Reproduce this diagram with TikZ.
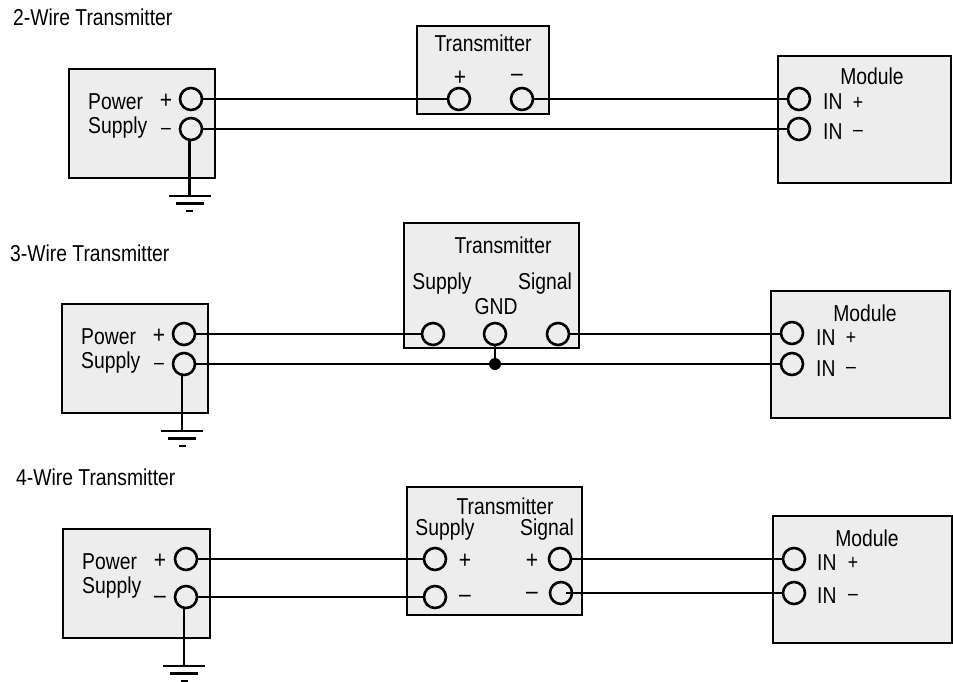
\documentclass[tikz,border=0pt]{standalone}
\usepackage{fontspec}
\setmainfont[FakeStretch=0.84]{Liberation Sans}
\tikzset{
  panel/.style={draw=black,fill=black!7,line width=2.6pt,line join=miter},
  wire/.style={line width=2.6pt},
  term/.style={circle,draw=black,line width=2.6pt,minimum size=22pt,inner sep=0pt},
  lbl/.style={inner sep=0pt,anchor=base,font=\fontsize{23}{24}\selectfont},
  lblw/.style={lbl,anchor=base west},
  sign/.style={inner sep=0pt,anchor=center,font=\fontsize{25}{25}\selectfont},
  smallsign/.style={inner sep=0pt,anchor=center,font=\fontsize{21}{22}\selectfont},
  dotnode/.style={circle,fill=black,minimum size=12pt,inner sep=0pt}
}
\newcommand{\earth}[1]{%
  \draw[line width=2.4pt] ([xshift=-21pt]#1) -- ([xshift=21pt]#1);
  \draw[line width=2.4pt] ([xshift=-14pt,yshift=-7.5pt]#1) -- ([xshift=14pt,yshift=-7.5pt]#1);
  \draw[line width=2.4pt] ([xshift=-3.5pt,yshift=-15pt]#1) -- ([xshift=3.5pt,yshift=-15pt]#1);
}
\begin{document}
\begin{tikzpicture}[x=1pt,y=-1pt]
\useasboundingbox (0,0) rectangle (953,681);
% --- 2-wire
\node[lblw] (ttwo) at (13,25) {2-Wire Transmitter};
\path[panel] (69,69) rectangle (215,178);
\path[panel] (417,26) rectangle (549,114);
\path[panel] (778,56) rectangle (951,183);
\node[lblw] (pa1) at (88,109) {Power};
\node[lblw] (pa2) at (88,133) {Supply};
\node[sign] (pa3) at (166,101) {+};
\node[smallsign] (pa4) at (166,131) {–};
\node[lbl] (ta1) at (483,51) {Transmitter};
\node[sign] (ta2) at (460,78) {+};
\node[sign] (ta3) at (517,78) {–};
\node[lbl] (ma1) at (872,84) {Module};
\node[lblw] (ma2) at (823,109) {IN};
\node[smallsign] (ma3) at (858,103) {+};
\node[lblw] (ma4) at (823,139) {IN};
\node[smallsign] (ma5) at (858,133) {–};
\node[term] (a1) at (191,99) {};
\node[term] (a2) at (191,129) {};
\node[term] (a3) at (459,99) {};
\node[term] (a4) at (522,99) {};
\node[term] (a5) at (799,99) {};
\node[term] (a6) at (799,129) {};
\draw[wire] (a1) -- (a3);
\draw[wire] (a4) -- (a5);
\draw[wire] (a2) -- (a6);
\coordinate (ga) at (189.5,196);
\draw[wire] (a2.south -| ga) -- (ga);
\earth{ga}
% --- 3-wire
\node[lblw] (tthree) at (10,261) {3-Wire Transmitter};
\path[panel] (62,304) rectangle (208,413);
\path[panel] (404,223) rectangle (579,348);
\path[panel] (771,291) rectangle (950,418);
\node[lblw] (pb1) at (81,344) {Power};
\node[lblw] (pb2) at (81,368) {Supply};
\node[sign] (pb3) at (159,336) {+};
\node[smallsign] (pb4) at (159,366) {–};
\node[lbl] (tb1) at (503,253) {Transmitter};
\node[lbl] (tb2) at (442,289) {Supply};
\node[lbl] (tb3) at (545,289) {Signal};
\node[lbl] (tb4) at (496,314) {GND};
\node[lbl] (mb1) at (865,321) {Module};
\node[lblw] (mb2) at (816,345) {IN};
\node[smallsign] (mb3) at (851,338) {+};
\node[lblw] (mb4) at (816,376) {IN};
\node[smallsign] (mb5) at (851,370) {–};
\node[term] (b1) at (184,334) {};
\node[term] (b2) at (184,364) {};
\node[term] (b3) at (433,334) {};
\node[term] (b4) at (495,334) {};
\node[term] (b5) at (558,334) {};
\node[term] (b6) at (792,333) {};
\node[term] (b7) at (792,364) {};
\node[dotnode] (bj) at (495,364) {};
\draw[wire] (b1) -- (b3);
\draw[wire] (b5.east) -- (b6.west |- b5);
\draw[wire] (b2) -- (b7);
\draw[wire] (b4.south) -- (bj);
\coordinate (gb) at (182,431);
\draw[wire] (b2.south -| gb) -- (gb);
\earth{gb}
% --- 4-wire
\node[lblw] (tfour) at (16,485) {4-Wire Transmitter};
\path[panel] (63,529) rectangle (210,638);
\path[panel] (407,487) rectangle (582,615);
\path[panel] (773,516) rectangle (952,643);
\node[lblw] (pc1) at (82,569) {Power};
\node[lblw] (pc2) at (82,593) {Supply};
\node[sign] (pc3) at (160,561) {+};
\node[sign] (pc4) at (160,600) {–};
\node[lbl] (tc1) at (505,514) {Transmitter};
\node[lbl] (tc2) at (445,535) {Supply};
\node[lbl] (tc3) at (547,535) {Signal};
\node[sign] (tc4) at (465,561) {+};
\node[sign] (tc5) at (465,599) {–};
\node[sign] (tc6) at (532,561) {+};
\node[sign] (tc7) at (532,596) {–};
\node[lbl] (mc1) at (867,546) {Module};
\node[lblw] (mc2) at (817,570) {IN};
\node[smallsign] (mc3) at (853,563) {+};
\node[lblw] (mc4) at (817,603) {IN};
\node[smallsign] (mc5) at (853,597) {–};
\node[term] (c1) at (186,559) {};
\node[term] (c2) at (186,597) {};
\node[term] (c3) at (435,559) {};
\node[term] (c4) at (435,597) {};
\node[term] (c5) at (560,559) {};
\node[term] (c6) at (561,593) {};
\node[term] (c7) at (794,559) {};
\node[term] (c8) at (794,593) {};
\draw[wire] (c1) -- (c3);
\draw[wire] (c2) -- (c4);
\draw[wire] (c5) -- (c7);
\draw[wire] (c6.center) ++(5,0) -- (c8.west);
\coordinate (gc) at (184,666);
\draw[wire] (c2.south -| gc) -- (gc);
\earth{gc}
\end{tikzpicture}
\end{document}
